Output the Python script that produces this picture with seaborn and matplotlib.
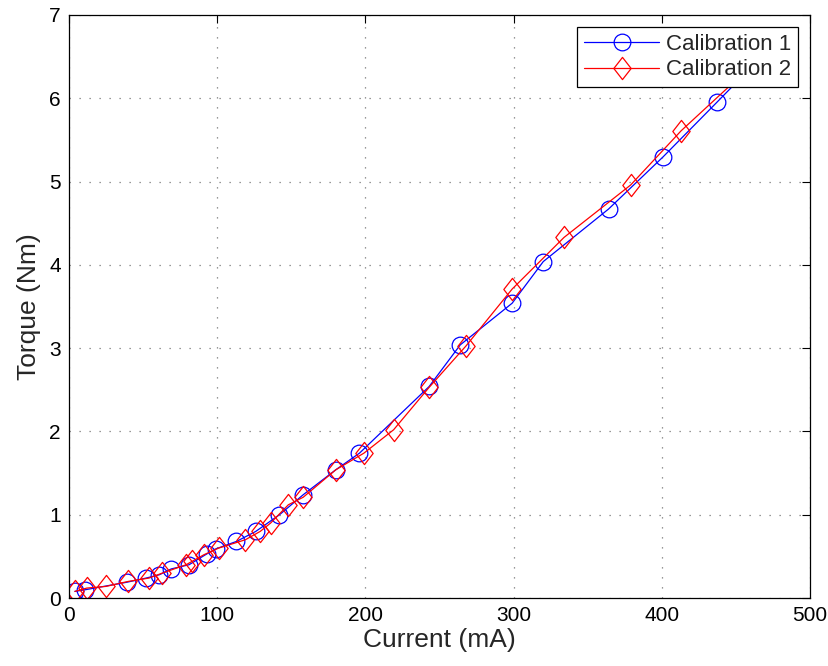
import matplotlib
matplotlib.use("Agg")
import matplotlib.pyplot as plt
import seaborn as sns
import pandas as pd
from matplotlib.path import Path

cal1_current = [4, 11, 39, 52, 61, 69, 81, 93, 99, 113, 126, 142, 158, 180, 196,
                243, 264, 299, 320, 364, 401, 437, 470]
cal1_torque = [0.08, 0.10, 0.19, 0.24, 0.28, 0.35, 0.40, 0.53, 0.59, 0.68, 0.80, 1.00,
               1.24, 1.54, 1.74, 2.54, 3.04, 3.54, 4.04, 4.67, 5.30, 5.95, 6.55]

cal2_current = [4, 12, 25, 40, 54, 63, 79, 83, 91, 101, 119, 129, 136, 148, 158, 180,
                199, 219, 243, 268, 299, 334, 379, 413, 455]
cal2_torque = [0.08, 0.12, 0.14, 0.20, 0.24, 0.30, 0.40, 0.44, 0.52, 0.60, 0.70, 0.80,
               0.90, 1.12, 1.21, 1.54, 1.74, 2.02, 2.53, 3.03, 3.71, 4.33, 4.96, 5.61, 6.30]

series_names = ["Calibration 1", "Calibration 2"]
x_ticks = [0, 100, 200, 300, 400, 500]
y_ticks = [0, 1, 2, 3, 4, 5, 6, 7]

sns.set_style("white")
plt.rcParams['font.family'] = ['Liberation Sans', 'DejaVu Sans']

diamond = Path([(0, 1), (0.78, 0), (0, -1), (-0.78, 0), (0, 1)],
               [Path.MOVETO, Path.LINETO, Path.LINETO, Path.LINETO, Path.CLOSEPOLY])

fig = plt.figure(figsize=(8.29, 6.66), dpi=100)
ax = fig.add_axes([0.0832, 0.102, 0.894, 0.8755])

df1 = pd.DataFrame({"Current": cal1_current, "Torque": cal1_torque})
df2 = pd.DataFrame({"Current": cal2_current, "Torque": cal2_torque})

sns.lineplot(data=df1, x="Current", y="Torque", sort=False, estimator=None, ax=ax,
             color="#0000ff", linewidth=0.9, marker="o", markersize=12,
             markerfacecolor="none", markeredgecolor="#0000ff", markeredgewidth=0.9,
             label=series_names[0])
sns.lineplot(data=df2, x="Current", y="Torque", sort=False, estimator=None, ax=ax,
             color="#ff0000", linewidth=0.9, marker=diamond, markersize=16,
             markerfacecolor="none", markeredgecolor="#ff0000", markeredgewidth=0.9,
             label=series_names[1])

ax.set_xlim(0, 500)
ax.set_ylim(0, 7)
ax.set_xticks(x_ticks)
ax.set_yticks(y_ticks)
ax.tick_params(direction="in", length=6, width=0.8, top=True, right=True,
               labelsize=15, colors="black", pad=6)
ax.grid(True, linestyle=(0, (1, 7)), color="#777777", linewidth=0.9)
for s in ax.spines.values():
    s.set_color("black")
    s.set_linewidth(0.9)

ax.set_xlabel("Current (mA)", fontsize=19, labelpad=2)
ax.set_ylabel("Torque (Nm)", fontsize=19, labelpad=6)

leg = ax.legend(loc="upper right", fontsize=16, frameon=True, fancybox=False,
                edgecolor="black", framealpha=1, borderaxespad=0.55,
                handlelength=3.4, handletextpad=0.3, borderpad=0.3, labelspacing=0.2)
leg.get_frame().set_linewidth(0.9)

fig.savefig("out.png", dpi=100)
